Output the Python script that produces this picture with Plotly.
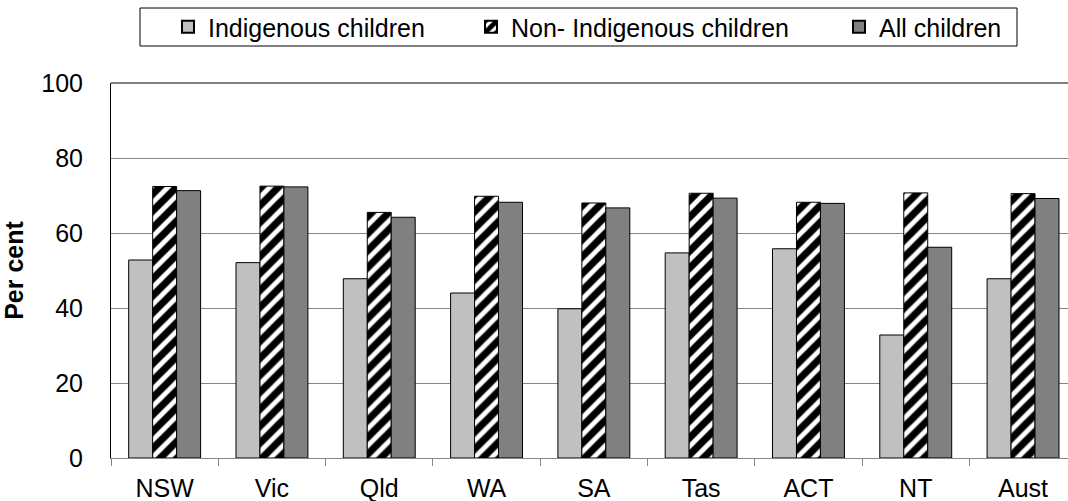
import plotly.graph_objects as go

# Jurisdictions along the x axis
states = ["NSW", "Vic", "Qld", "WA", "SA", "Tas", "ACT", "NT", "Aust"]

# Per cent of children, by group
indigenous = [52.8, 52.1, 47.8, 44.0, 39.8, 54.7, 55.8, 32.8, 47.8]
non_indigenous = [72.4, 72.5, 65.5, 69.8, 68.0, 70.6, 68.2, 70.7, 70.5]
all_children = [71.3, 72.3, 64.2, 68.2, 66.7, 69.3, 67.9, 56.2, 69.2]

series_names = ["Indigenous children", "Non- Indigenous children", "All children"]

W, H = 1068, 501
ML, MR, MT, MB = 111, 0, 83, 43
PW, PH = W - ML - MR, H - MT - MB
CAT_PX = 107.3  # width of one category slot in pixels

FONT = "Liberation Sans, Arial, sans-serif"
FS = 25
GRID = "#868686"


def px_x(px):
    return (px - ML) / PW


def px_y(py):
    return (H - MB - py) / PH


fig = go.Figure()
fig.add_trace(go.Bar(
    x=states, y=indigenous, name=series_names[0],
    marker=dict(color="#C0C0C0", line=dict(color="black", width=1)),
    legendwidth=258,
))
fig.add_trace(go.Bar(
    x=states, y=non_indigenous, name=series_names[1],
    marker=dict(color="white", line=dict(color="black", width=1),
                pattern=dict(shape="/", fgcolor="black", bgcolor="white",
                             fgopacity=1, size=12, solidity=0.6)),
    legendwidth=323,
))
fig.add_trace(go.Bar(
    x=states, y=all_children, name=series_names[2],
    marker=dict(color="#808080", line=dict(color="black", width=1)),
))

# Legend frame and top border of the plot area
fig.add_shape(type="rect", xref="paper", yref="paper",
              x0=px_x(140), x1=px_x(1017), y0=px_y(46), y1=px_y(8),
              line=dict(color="black", width=1), fillcolor="white", layer="below")
fig.add_shape(type="line", xref="paper", yref="paper",
              x0=0, x1=1, y0=1, y1=1, line=dict(color="black", width=1.2))

fig.update_layout(
    width=W, height=H,
    margin=dict(l=ML, r=MR, t=MT, b=MB, pad=0),
    paper_bgcolor="white", plot_bgcolor="white",
    font=dict(family=FONT, size=FS, color="black"),
    barmode="group", bargap=0.33, bargroupgap=0,
    showlegend=True,
    legend=dict(
        orientation="h", x=px_x(168), xanchor="left",
        y=px_y(27), yanchor="middle",
        bgcolor="rgba(0,0,0,0)", borderwidth=0,
        font=dict(family=FONT, size=FS, color="black"),
        itemsizing="constant", traceorder="normal",
    ),
    xaxis=dict(
        type="category",
        range=[-0.5, -0.5 + PW / CAT_PX],
        showline=True, linecolor=GRID, linewidth=1,
        ticks="outside", tickson="boundaries", ticklen=7,
        tickcolor=GRID, tickwidth=1,
        ticklabelstandoff=8,
        showgrid=False,
        tickfont=dict(family=FONT, size=FS, color="black"),
    ),
    yaxis=dict(
        range=[0, 100], dtick=20,
        showline=True, linecolor="black", linewidth=1,
        showgrid=True, gridcolor=GRID, gridwidth=1,
        zeroline=False, ticks="",
        ticklabelstandoff=22,
        tickfont=dict(family=FONT, size=FS, color="black"),
        title=dict(text="<b>Per cent</b>", standoff=10,
                   font=dict(family=FONT, size=FS, color="black")),
    ),
)

fig.write_html("out.html")
